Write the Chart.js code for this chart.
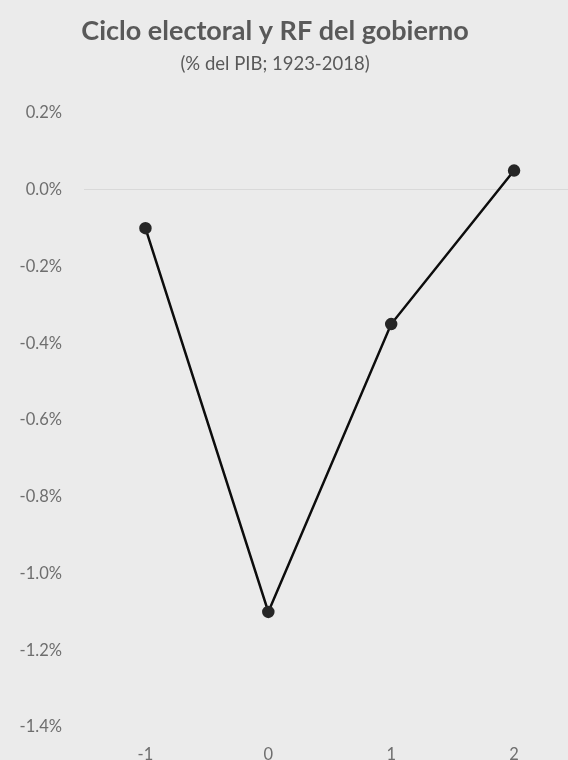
<!DOCTYPE html>
<html>
<head>
<meta charset="utf-8">
<script src="https://cdn.jsdelivr.net/npm/chart.js@4/dist/chart.umd.min.js"></script>
<style>
  html, body { margin: 0; padding: 0; background: #ebebeb; overflow: hidden; width: 568px; height: 760px; }
  #wrap { position: absolute; left: 0; top: 0; width: 583px; height: 762px; }
</style>
</head>
<body>
<div id="wrap"><canvas id="c" width="583" height="762"></canvas></div>
<script>
const titleText = "Ciclo electoral y RF del gobierno";
const subtitleText = "(% del PIB; 1923-2018)";
const categories = ["-1", "0", "1", "2"];
const values = [-0.10, -1.10, -0.35, 0.05];
const yMin = -1.4, yMax = 0.2, yStep = 0.2;

const FONT = "Lato, 'Open Sans', sans-serif";

const titlePlugin = {
  id: 'customTitle',
  afterDraw(chart) {
    const ctx = chart.ctx;
    ctx.save();
    ctx.textAlign = 'center';
    ctx.textBaseline = 'middle';
    ctx.fillStyle = '#595959';
    ctx.font = "bold 27px " + FONT;
    ctx.fillText(titleText, 275, 31);
    ctx.font = "18.5px " + FONT;
    ctx.fillText(subtitleText, 275, 64);
    ctx.restore();
  }
};

new Chart(document.getElementById('c'), {
  type: 'line',
  data: {
    labels: categories,
    datasets: [{
      data: values,
      borderColor: '#0d0d0d',
      borderWidth: 2.5,
      pointRadius: 5,
      pointHoverRadius: 5,
      pointBackgroundColor: '#262626',
      pointBorderColor: '#262626',
      tension: 0,
      fill: false
    }]
  },
  options: {
    responsive: false,
    animation: false,
    events: [],
    layout: { padding: { top: 113, left: 0, right: 0, bottom: 0 } },
    plugins: { legend: { display: false }, tooltip: { enabled: false }, title: { display: false } },
    scales: {
      x: {
        type: 'category',
        offset: true,
        grid: { display: false, drawTicks: false },
        border: { display: false },
        ticks: { color: '#6e6e6e', font: { family: FONT, size: 16.5 }, padding: 18 },
        afterFit(scale) { scale.height = 35; }
      },
      y: {
        min: yMin,
        max: yMax,
        grid: {
          drawTicks: false,
          color: (c) => (c.tick && Math.abs(c.tick.value) < 1e-9) ? '#d9d9d9' : 'rgba(0,0,0,0)',
          lineWidth: 1
        },
        border: { display: false },
        ticks: {
          stepSize: yStep,
          color: '#6e6e6e',
          font: { family: FONT, size: 16.5 },
          padding: 22,
          callback: (v) => (Math.abs(v) < 1e-9 ? 0 : v).toFixed(1) + '%'
        },
        afterFit(scale) { scale.width = 84; }
      }
    }
  },
  plugins: [titlePlugin]
});
</script>
</body>
</html>
